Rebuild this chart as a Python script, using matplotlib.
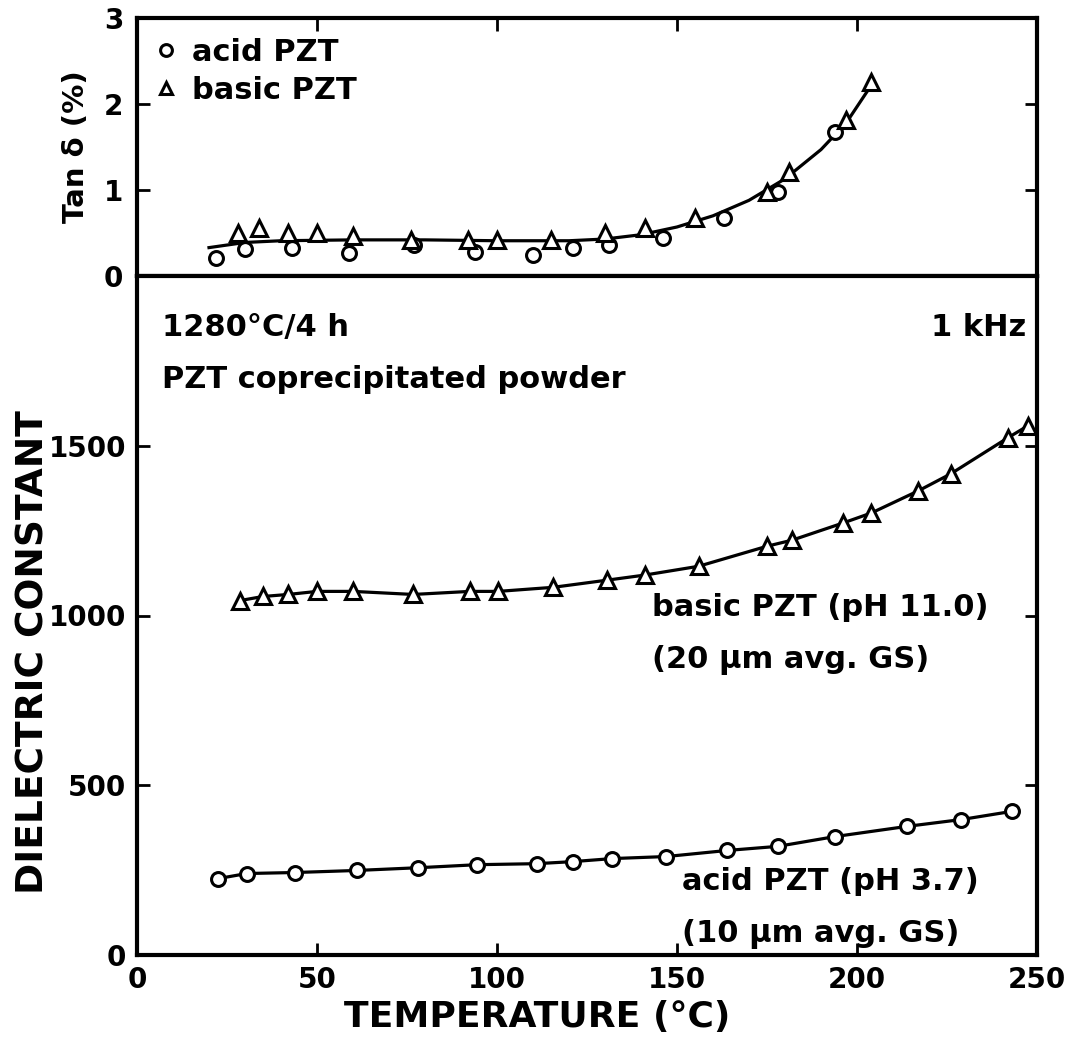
import numpy as np
import matplotlib
matplotlib.use('Agg')
import matplotlib.pyplot as plt

plt.rcParams['font.family'] = ['DejaVu Sans']
plt.rcParams['font.weight'] = 'bold'

# tan delta (%) - acid PZT (circles)
t_tan_acid = [22, 30, 43, 59, 77, 94, 110, 121, 131, 146, 163, 178, 194]
tan_acid = [0.21, 0.31, 0.33, 0.27, 0.36, 0.28, 0.24, 0.32, 0.36, 0.44, 0.67, 0.98, 1.67]
# tan delta (%) - basic PZT (triangles)
t_tan_basic = [28, 34, 42, 50, 60, 76, 92, 100, 115, 130, 141, 155, 175, 181, 197, 204]
tan_basic = [0.50, 0.56, 0.50, 0.50, 0.46, 0.42, 0.42, 0.42, 0.42, 0.50, 0.56, 0.67, 0.98, 1.21, 1.81, 2.26]
# drawn curve through the tan delta data
t_tan_curve = [20, 30, 40, 60, 80, 100, 120, 130, 140, 150, 160, 170, 180, 190, 197, 204]
tan_curve = [0.33, 0.39, 0.41, 0.42, 0.42, 0.41, 0.41, 0.43, 0.48, 0.57, 0.70, 0.88, 1.13, 1.47, 1.78, 2.22]

# dielectric constant - basic PZT
t_k_basic = [28.6, 35, 42, 50, 60, 76.7, 92.5, 100.3, 115.6, 130.5, 141, 156, 175, 182, 196, 204, 217, 226, 242, 247.5]
k_basic = [1044, 1056, 1062, 1071, 1071, 1062, 1071, 1071, 1083, 1104, 1119, 1145, 1204, 1222, 1272, 1302, 1367, 1417, 1524, 1559]
# dielectric constant - acid PZT
t_k_acid = [22.5, 30.5, 44, 61, 78, 94.5, 111, 121, 132, 147, 164, 178, 194, 214, 229, 243]
k_acid = [225, 240, 243, 249, 257, 266, 269, 275, 284, 290, 308, 320, 349, 379, 399, 423]

fig = plt.figure(figsize=(10.77, 10.38), dpi=100)
L, W = 137 / 1077, 900 / 1077
ax1 = fig.add_axes([L, 1 - 276 / 1038, W, 258 / 1038])
ax2 = fig.add_axes([L, 1 - 955 / 1038, W, 679 / 1038])

mk = dict(mfc='white', mec='black', mew=2.2, ls='none', color='black')

# top panel
ax1.plot(t_tan_curve, tan_curve, color='black', lw=2.3)
ax1.plot(t_tan_acid, tan_acid, marker='o', ms=10, label='acid PZT', **mk)
ax1.plot(t_tan_basic, tan_basic, marker='^', ms=11, label='basic PZT', **mk)
ax1.set_xlim(0, 250)
ax1.set_ylim(0, 3)
ax1.set_yticks([0, 1, 2, 3])
ax1.set_xticks([50, 100, 150, 200])
ax1.tick_params(axis='both', direction='in', length=9, width=2, labelsize=20,
                top=True, bottom=False, right=True, labelbottom=False, pad=10)
ax1.set_ylabel('Tan δ (%)', fontsize=21, fontweight='bold', labelpad=10)
ax1.legend(loc='upper left', frameon=False, fontsize=22, handlelength=0.6,
           handletextpad=0.55, borderaxespad=0.35, labelspacing=0.3,
           borderpad=0.3, markerscale=0.85)

# bottom panel
ax2.plot(t_k_basic, k_basic, color='black', lw=2.3)
ax2.plot(t_k_basic, k_basic, marker='^', ms=11, **mk)
ax2.plot(t_k_acid, k_acid, color='black', lw=2.3)
ax2.plot(t_k_acid, k_acid, marker='o', ms=10, **mk)
ax2.set_xlim(0, 250)
ax2.set_ylim(0, 2000)
ax2.set_xticks([0, 50, 100, 150, 200, 250])
ax2.set_yticks([0, 500, 1000, 1500])
ax2.tick_params(axis='both', direction='in', length=9, width=2, labelsize=20,
                top=False, right=True, pad=8)

for ax in (ax1, ax2):
    for s in ax.spines.values():
        s.set_linewidth(3)

fs = 22
ax2.text(7, 1849, '1280°C/4 h', fontsize=fs, va='center')
ax2.text(7, 1695, 'PZT coprecipitated powder', fontsize=fs, va='center')
ax2.text(247, 1849, '1 kHz', fontsize=fs, va='center', ha='right')
ax2.text(143, 1024, 'basic PZT (pH 11.0)', fontsize=fs, va='center')
ax2.text(143, 870, '(20 μm avg. GS)', fontsize=fs, va='center')
ax2.text(151.5, 216, 'acid PZT (pH 3.7)', fontsize=fs, va='center')
ax2.text(151.5, 62, '(10 μm avg. GS)', fontsize=fs, va='center')

fig.text(34 / 1077, 1 - 652 / 1038, 'DIELECTRIC CONSTANT', fontsize=27,
         rotation=90, ha='center', va='center')
fig.text(537 / 1077, 1 - 1017 / 1038, 'TEMPERATURE (°C)', fontsize=26,
         ha='center', va='center')

fig.savefig('out.png', dpi=100)
